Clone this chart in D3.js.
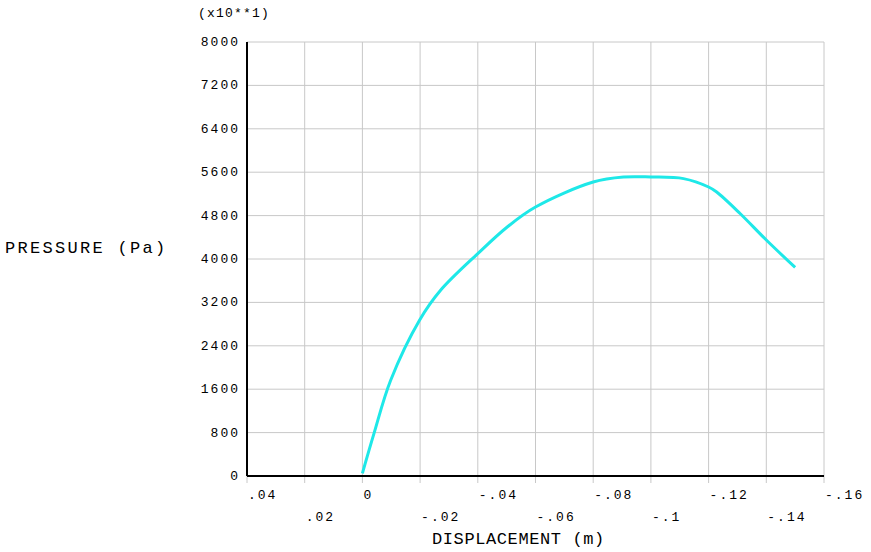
<!DOCTYPE html>
<html><head><meta charset="utf-8">
<script src="https://cdn.jsdelivr.net/npm/d3@7"></script>
<style>body{margin:0;background:#fff}text{font-family:"Liberation Mono","DejaVu Sans Mono",monospace}</style>
</head><body><div id="chart"></div>
<script>
const dispValues = [0, -0.004, -0.0098, -0.0199, -0.0271, -0.04, -0.0502, -0.06, -0.08, -0.0905, -0.1, -0.1113, -0.12, -0.1228, -0.1309, -0.14, -0.15]
const pressureValues = [50, 781, 1764, 2880, 3423, 4099, 4590, 4958, 5419, 5511, 5511, 5482, 5327, 5235, 4839, 4350, 3844]
const xTicks = [0.04, 0.02, 0, -0.02, -0.04, -0.06, -0.08, -0.1, -0.12, -0.14, -0.16]
const xTickLabels = [".04", ".02", "0", "-.02", "-.04", "-.06", "-.08", "-.1", "-.12", "-.14", "-.16"]
const yTicks = [0, 800, 1600, 2400, 3200, 4000, 4800, 5600, 6400, 7200, 8000]

const W = 871, H = 552
const dim = {ml: 247, mt: 42, width: 577, height: 434}

const svg = d3.select("#chart").append("svg").attr("width", W).attr("height", H)
const x = d3.scaleLinear().domain([0.04, -0.16]).range([dim.ml, dim.ml + dim.width])
const y = d3.scaleLinear().domain([0, 8000]).range([dim.mt + dim.height, dim.mt])

const grid = svg.append("g").attr("stroke", "#c8c8c8").attr("stroke-width", 1)
xTicks.forEach(t => grid.append("line").attr("x1", x(t)).attr("x2", x(t)).attr("y1", y(8000)).attr("y2", y(0) + 7))
yTicks.forEach(t => grid.append("line").attr("x1", x(0.04)).attr("x2", x(-0.16)).attr("y1", y(t)).attr("y2", y(t)))

svg.append("line").attr("x1", x(0.04)).attr("x2", x(0.04)).attr("y1", y(8000)).attr("y2", y(0)).attr("stroke", "#000").attr("stroke-width", 2)
svg.append("line").attr("x1", x(0.04)).attr("x2", x(-0.16)).attr("y1", y(0)).attr("y2", y(0)).attr("stroke", "#000").attr("stroke-width", 2)

yTicks.forEach(t => svg.append("text").attr("x", 240).attr("y", y(t) + 4).attr("text-anchor", "end")
  .attr("font-size", 13).attr("letter-spacing", 2).text(t))
xTicks.forEach((t, i) => svg.append("text").attr("x", x(t) + 1).attr("y", i % 2 ? 521 : 499)
  .attr("font-size", 13).attr("letter-spacing", 2).text(xTickLabels[i]))

svg.append("text").attr("x", 198).attr("y", 17).attr("font-size", 13).attr("letter-spacing", 1.2).text("(x10**1)")
svg.append("text").attr("x", 5).attr("y", 253).attr("font-size", 17).attr("letter-spacing", 2.3).text("PRESSURE (Pa)")
svg.append("text").attr("x", 432).attr("y", 544).attr("font-size", 17).attr("letter-spacing", 0.6).text("DISPLACEMENT (m)")

const line = d3.line().curve(d3.curveCatmullRom).x(d => x(d)).y((d, i) => y(pressureValues[i]))
svg.append("path").attr("d", line(dispValues)).attr("fill", "none").attr("stroke", "#1ee8e8").attr("stroke-width", 3)
</script></body></html>
